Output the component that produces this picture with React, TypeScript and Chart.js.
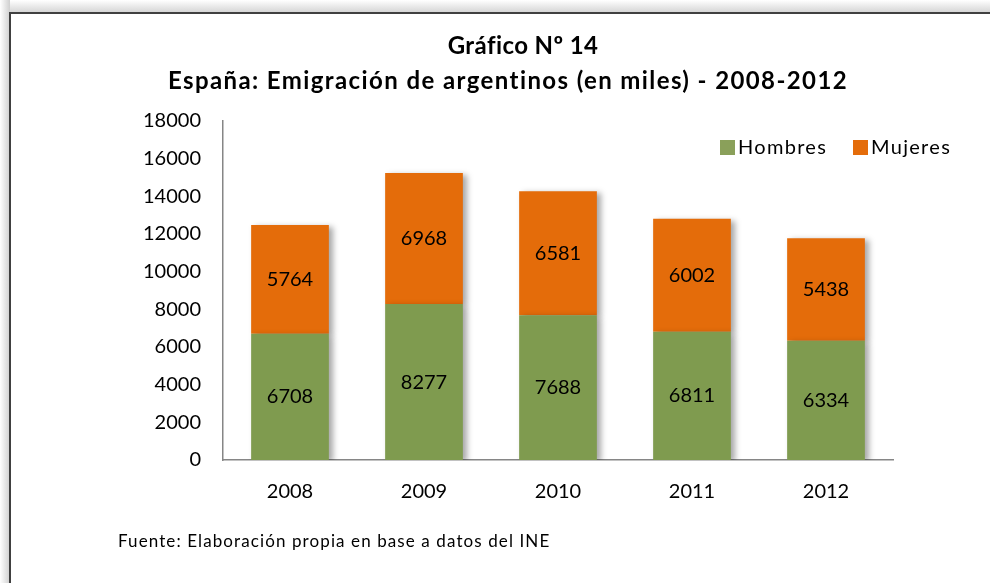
import React, { useEffect, useRef } from "react";
import { Chart, registerables } from "chart.js";

Chart.register(...registerables);

const years = ["2008", "2009", "2010", "2011", "2012"];
const hombres = [6708, 8277, 7688, 6811, 6334];
const mujeres = [5764, 6968, 6581, 6002, 5438];
const yTicksMin = 0;
const yTicksMax = 18000;
const yTickStep = 2000;

const FONT = "Lato, 'Open Sans', sans-serif";
const GREEN = "#7F9B4F";
const ORANGE = "#E46C0A";

const shadowPlugin = {
  id: "barShadow",
  beforeDatasetDraw(chart: any) {
    const ctx = chart.ctx;
    ctx.save();
    ctx.shadowColor = "rgba(0,0,0,0.35)";
    ctx.shadowBlur = 6;
    ctx.shadowOffsetX = 4;
    ctx.shadowOffsetY = 2;
  },
  afterDatasetDraw(chart: any) {
    chart.ctx.restore();
  },
};

const labelPlugin = {
  id: "segLabels",
  afterDatasetsDraw(chart: any) {
    const ctx = chart.ctx;
    ctx.save();
    ctx.font = `20px ${FONT}`;
    ctx.fillStyle = "#000";
    ctx.textAlign = "center";
    ctx.textBaseline = "middle";
    chart.data.datasets.forEach((ds: any, i: number) => {
      const meta = chart.getDatasetMeta(i);
      meta.data.forEach((el: any, j: number) => {
        const y = (el.y + el.base) / 2;
        ctx.fillText(String(ds.data[j]), el.x, y);
      });
    });
    ctx.restore();
  },
};

export default function App() {
  const ref = useRef<HTMLCanvasElement>(null);

  useEffect(() => {
    document.body.style.margin = "0";
    const chart = new Chart(ref.current!, {
      type: "bar",
      data: {
        labels: years,
        datasets: [
          { label: "Hombres", data: hombres, backgroundColor: GREEN, barPercentage: 0.58, categoryPercentage: 1 },
          { label: "Mujeres", data: mujeres, backgroundColor: ORANGE, barPercentage: 0.58, categoryPercentage: 1 },
        ],
      },
      options: {
        responsive: false,
        animation: false,
        layout: { padding: { top: 121, right: 97, bottom: 0, left: 0 } },
        plugins: {
          legend: { display: false },
          title: { display: false },
          tooltip: { enabled: false },
        },
        scales: {
          x: {
            stacked: true,
            grid: { display: false, drawTicks: false },
            border: { display: true, color: "#868686", width: 1.5 },
            ticks: { color: "#000", font: { family: FONT, size: 20 }, padding: 20 },
            afterFit(scale: any) {
              scale.height = 123;
            },
          },
          y: {
            stacked: true,
            min: yTicksMin,
            max: yTicksMax,
            grid: { display: false, drawTicks: false },
            border: { display: true, color: "#868686", width: 1.5 },
            ticks: {
              stepSize: yTickStep,
              color: "#000",
              font: { family: FONT, size: 20 },
              padding: 22,
              callback: (v: any) => String(v),
            },
            afterFit(scale: any) {
              scale.width = 223;
            },
          },
        },
      },
      plugins: [shadowPlugin, labelPlugin],
    } as any);
    return () => chart.destroy();
  }, []);

  const text: React.CSSProperties = { position: "absolute", fontFamily: FONT, color: "#000", whiteSpace: "nowrap" };

  return (
    <div style={{ position: "relative", width: 990, height: 583, background: "#fff", overflow: "hidden" }}>
      <div style={{ position: "absolute", left: 0, top: 0, width: 990, height: 12, background: "linear-gradient(to bottom, #ffffff, #d6d6d6)" }} />
      <div style={{ position: "absolute", left: 0, top: 0, width: 10, height: 583, background: "linear-gradient(to right, #ffffff, #cfcfcf)" }} />
      <div style={{ position: "absolute", left: 9, top: 12, width: 981, height: 2, background: "#404040" }} />
      <div style={{ position: "absolute", left: 9, top: 12, width: 2, height: 571, background: "#404040" }} />
      <canvas ref={ref} width={990} height={583} style={{ position: "absolute", left: 0, top: 0 }} />
      <div style={{ ...text, left: 323, width: 400, top: 30, textAlign: "center", fontWeight: 700, fontSize: 24, letterSpacing: "0.4px" }}>Gráfico Nº 14</div>
      <div style={{ ...text, left: 108, width: 800, top: 65, textAlign: "center", fontWeight: 700, fontSize: 24, letterSpacing: "1.4px" }}>
        España: Emigración de argentinos (en miles) - 2008-2012
      </div>
      <div style={{ ...text, left: 720, top: 140, width: 15, height: 15, background: "#8AA05A" }} />
      <div style={{ ...text, left: 738, top: 134, fontSize: 20, letterSpacing: "1.3px" }}>Hombres</div>
      <div style={{ ...text, left: 853, top: 140, width: 15, height: 15, background: ORANGE }} />
      <div style={{ ...text, left: 871, top: 134, fontSize: 20, letterSpacing: "1.3px" }}>Mujeres</div>
      <div style={{ ...text, left: 118, top: 530, fontSize: 17, letterSpacing: "1.1px" }}>Fuente: Elaboración propia en base a datos del INE</div>
    </div>
  );
}
